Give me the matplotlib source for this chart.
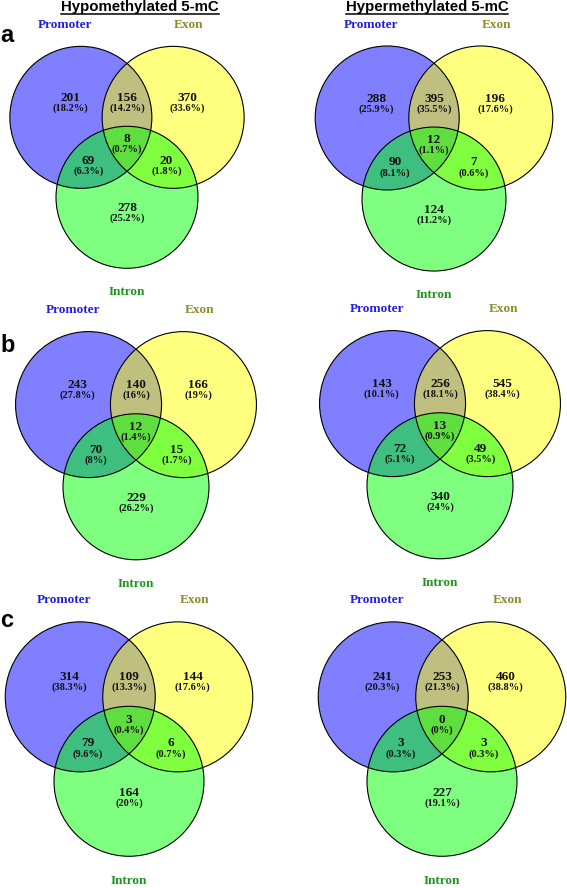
import matplotlib
matplotlib.use("Agg")
import matplotlib.pyplot as plt
from matplotlib.patches import Circle

set_names = ["Promoter", "Exon", "Intron"]
set_label_colors = ["#1e1ee6", "#8c8c28", "#1e961e"]
fill_colors = ["#0000ff", "#ffff00", "#00ff00"]

titles = ["Hypomethylated 5-mC", "Hypermethylated 5-mC"]
panel_letters = ["a", "b", "c"]

# region order: Promoter only, Promoter&Exon, Exon only,
#               Promoter&Intron, all three, Exon&Intron, Intron only
hypo_a = [201, 156, 370, 69, 8, 20, 278]
hypo_a_pct = ["18.2%", "14.2%", "33.6%", "6.3%", "0.7%", "1.8%", "25.2%"]
hyper_a = [288, 395, 196, 90, 12, 7, 124]
hyper_a_pct = ["25.9%", "35.5%", "17.6%", "8.1%", "1.1%", "0.6%", "11.2%"]
hypo_b = [243, 140, 166, 70, 12, 15, 229]
hypo_b_pct = ["27.8%", "16%", "19%", "8%", "1.4%", "1.7%", "26.2%"]
hyper_b = [143, 256, 545, 72, 13, 49, 340]
hyper_b_pct = ["10.1%", "18.1%", "38.4%", "5.1%", "0.9%", "3.5%", "24%"]
hypo_c = [314, 109, 144, 79, 3, 6, 164]
hypo_c_pct = ["38.3%", "13.3%", "17.6%", "9.6%", "0.4%", "0.7%", "20%"]
hyper_c = [241, 253, 460, 3, 0, 3, 227]
hyper_c_pct = ["20.3%", "21.3%", "38.8%", "0.3%", "0%", "0.3%", "19.1%"]

panels = [
    (hypo_a, hypo_a_pct), (hyper_a, hyper_a_pct),
    (hypo_b, hypo_b_pct), (hyper_b, hyper_b_pct),
    (hypo_c, hypo_c_pct), (hyper_c, hyper_c_pct),
]

# layout in pixels: centroid x, centroid y, circle radius
layout = [(127, 144, 71), (434, 145, 72),
          (136, 432, 73), (440, 431, 73),
          (129, 725, 75), (442, 725, 75)]
letter_y = [36, 345, 620]
title_x = [140, 427]

# unit geometry (radius 1, y pointing down)
d = 1.3
h = d * 0.866
centers = [(-d / 2, -h / 3), (d / 2, -h / 3), (0, 2 * h / 3)]
region_pos = [(-0.8, -0.575), (0, -0.575), (0.85, -0.575),
              (-0.545, 0.31), (0, 0), (0.555, 0.31), (0, 0.97)]
label_pos = [(-0.87, -1.67), (0.87, -1.67), (0, 2.08)]

fig = plt.figure(figsize=(5.67, 8.88), dpi=100)
ax = fig.add_axes([0, 0, 1, 1])
ax.set_xlim(0, 567)
ax.set_ylim(888, 0)
ax.axis("off")

serif = "Liberation Serif"
sans = "Liberation Sans"

for i, ((counts, pcts), (cx, cy, r)) in enumerate(zip(panels, layout)):
    for (ux, uy), col in zip(centers, fill_colors):
        ax.add_patch(Circle((cx + ux * r, cy + uy * r), r, facecolor=col,
                            alpha=0.5, edgecolor="none"))
    for ux, uy in centers:
        ax.add_patch(Circle((cx + ux * r, cy + uy * r), r, facecolor="none",
                            edgecolor="black", linewidth=0.8))
    for (px, py), n, p in zip(region_pos, counts, pcts):
        x, y = cx + px * r, cy + py * r
        ax.text(x, y - 5, str(n), ha="center", va="center", fontsize=9.5,
                fontweight="bold", family=serif, color="#111111")
        ax.text(x, y + 5.5, "(" + p + ")", ha="center", va="center",
                fontsize=7.5, fontweight="bold", family=serif, color="#111111")
    for (lx, ly), name, col in zip(label_pos, set_names, set_label_colors):
        ax.text(cx + lx * r, cy + ly * r, name, ha="center", va="center",
                fontsize=9.5, fontweight="bold", family=serif, color=col)

for j, letter in enumerate(panel_letters):
    ax.text(0, letter_y[j], letter, ha="left", va="center", fontsize=17,
            fontweight="bold", family=sans)

title_texts = []
for tx, title in zip(title_x, titles):
    t = ax.text(tx, 7, title, ha="center", va="center", fontsize=10.8,
                fontweight="bold", family=sans)
    title_texts.append(t)

# underline the titles
fig.canvas.draw()
renderer = fig.canvas.get_renderer()
inv = ax.transData.inverted()
for t in title_texts:
    bb = t.get_window_extent(renderer)
    (x0, _), (x1, _) = inv.transform([(bb.x0, bb.y0), (bb.x1, bb.y0)])
    ax.plot([x0, x1], [14, 14], color="black", linewidth=1.1)

fig.savefig("out.png", dpi=100)
